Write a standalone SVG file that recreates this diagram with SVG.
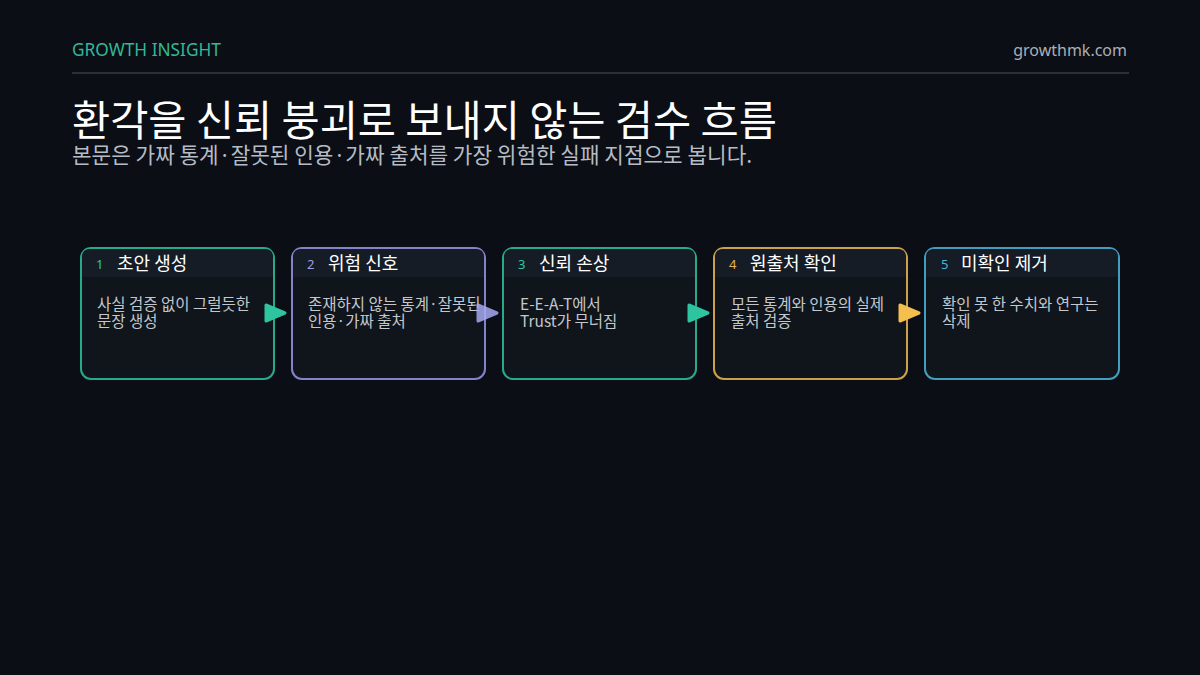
<svg xmlns="http://www.w3.org/2000/svg" width="1200" height="675" viewBox="0 0 1200 675">
<style>
.bg{fill:#0b0e14}
.brand{font-family:"Noto Sans","Noto Sans CJK KR",sans-serif;font-size:17.3px;fill:#33b898}
.site{font-family:"Noto Sans","Noto Sans CJK KR",sans-serif;font-size:16px;fill:#a9afb7}
.title{font-family:"Noto Sans CJK KR","Noto Sans",sans-serif;font-size:41.5px;fill:#ffffff}
.sub{font-family:"Noto Sans CJK KR","Noto Sans",sans-serif;font-size:21.3px;fill:#b6bcc5}
.card{fill:#0f151b;stroke-width:2}
.head{fill:#151c25}
.num{font-family:"Noto Sans","Noto Sans CJK KR",sans-serif;font-size:13px}
.ct{font-family:"Noto Sans CJK KR","Noto Sans",sans-serif;font-size:18px;fill:#ffffff}
.body{font-family:"Noto Sans CJK KR","Noto Sans",sans-serif;font-size:15.5px;fill:#c3c8cf}
.arr{stroke-linejoin:round;stroke-width:3}
</style>
<rect class="bg" x="0" y="0" width="1200" height="675"/>
<text class="brand" x="72" y="56">GROWTH INSIGHT</text>
<text class="site" x="1127" y="56" text-anchor="end">growthmk.com</text>
<line x1="72" y1="73" x2="1129" y2="73" stroke="#2b3037" stroke-width="2"/>
<text class="title" x="72" y="136">환각을 신뢰 붕괴로 보내지 않는 검수 흐름</text>
<text class="sub" x="72" y="163">본문은 가짜 통계·잘못된 인용·가짜 출처를 가장 위험한 실패 지점으로 봅니다.</text>

<g id="node1">
<rect class="card" x="81" y="248" width="193" height="131" rx="10" stroke="#27a98a"/>
<path class="head" d="M82 277 V257 Q82 249 90 249 H265 Q273 249 273 257 V277 Z"/>
<text class="num" x="96" y="269" fill="#2ec4a0">1</text>
<text class="ct" x="117" y="270">초안 생성</text>
<text class="body" x="97" y="310">사실 검증 없이 그럴듯한</text>
<text class="body" x="97" y="327">문장 생성</text>
</g>
<g id="node2">
<rect class="card" x="292" y="248" width="193" height="131" rx="10" stroke="#8582cc"/>
<path class="head" d="M293 277 V257 Q293 249 301 249 H476 Q484 249 484 257 V277 Z"/>
<text class="num" x="307" y="269" fill="#9c9de6">2</text>
<text class="ct" x="328" y="270">위험 신호</text>
<text class="body" x="308" y="310">존재하지 않는 통계·잘못된</text>
<text class="body" x="308" y="327">인용·가짜 출처</text>
</g>
<g id="node3">
<rect class="card" x="503" y="248" width="193" height="131" rx="10" stroke="#27a98a"/>
<path class="head" d="M504 277 V257 Q504 249 512 249 H687 Q695 249 695 257 V277 Z"/>
<text class="num" x="518" y="269" fill="#2ec4a0">3</text>
<text class="ct" x="539" y="270">신뢰 손상</text>
<text class="body" x="520" y="310">E-E-A-T에서</text>
<text class="body" x="520" y="327">Trust가 무너짐</text>
</g>
<g id="node4">
<rect class="card" x="714" y="248" width="193" height="131" rx="10" stroke="#cba24a"/>
<path class="head" d="M715 277 V257 Q715 249 723 249 H898 Q906 249 906 257 V277 Z"/>
<text class="num" x="729" y="269" fill="#e4b24e">4</text>
<text class="ct" x="750" y="270">원출처 확인</text>
<text class="body" x="731" y="310">모든 통계와 인용의 실제</text>
<text class="body" x="731" y="327">출처 검증</text>
</g>
<g id="node5">
<rect class="card" x="925" y="248" width="194" height="131" rx="10" stroke="#439ebd"/>
<path class="head" d="M926 277 V257 Q926 249 934 249 H1110 Q1118 249 1118 257 V277 Z"/>
<text class="num" x="941" y="269" fill="#4fb3d3">5</text>
<text class="ct" x="961" y="270">미확인 제거</text>
<text class="body" x="942" y="310">확인 못 한 수치와 연구는</text>
<text class="body" x="942" y="327">삭제</text>
</g>

<g id="connectors">
<polygon class="arr" points="266,305 285,313 266,321" fill="#2ec4a0" stroke="#2ec4a0"/>
<polygon class="arr" points="478,305 497,313 478,321" fill="#a7a9f2" stroke="#a7a9f2" opacity="0.85"/>
<polygon class="arr" points="689,305 708,313 689,321" fill="#2ec4a0" stroke="#2ec4a0"/>
<polygon class="arr" points="900,305 919,313 900,321" fill="#f5bf4f" stroke="#f5bf4f"/>
</g>
</svg>
